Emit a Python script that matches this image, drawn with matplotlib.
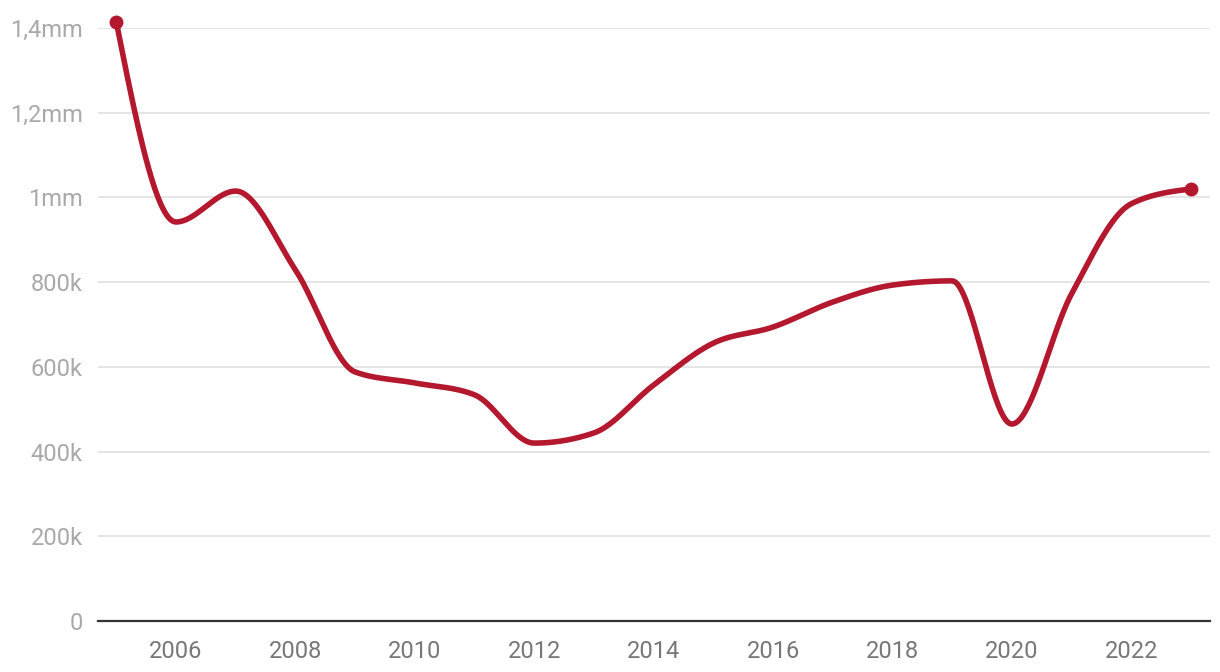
import matplotlib.pyplot as plt
import numpy as np

years = [2005, 2006, 2007, 2008, 2009, 2010, 2011, 2012, 2013, 2014,
         2015, 2016, 2017, 2018, 2019, 2020, 2021, 2022, 2023]
values = [1414000, 942000, 1015000, 829000, 588000, 562000, 534000, 420000, 444000, 557000,
          656000, 694000, 753000, 793000, 803000, 465000, 772000, 985000, 1020000]

yticks = [0, 200000, 400000, 600000, 800000, 1000000, 1200000, 1400000]
ylabels = ['0', '200k', '400k', '600k', '800k', '1mm', '1,2mm', '1,4mm']
xticks = [2006, 2008, 2010, 2012, 2014, 2016, 2018, 2020, 2022]


def monotone_curve(x, y, n=40):
    # d3 curveMonotoneX style smoothing
    x = np.asarray(x, float)
    y = np.asarray(y, float)
    h = np.diff(x)
    s = np.diff(y) / h
    m = np.zeros(len(x))
    for i in range(1, len(x) - 1):
        p = (s[i - 1] * h[i] + s[i] * h[i - 1]) / (h[i - 1] + h[i])
        m[i] = (np.sign(s[i - 1]) + np.sign(s[i])) * min(abs(s[i - 1]), abs(s[i]), 0.5 * abs(p))
    m[0] = (3 * s[0] - m[1]) / 2
    m[-1] = (3 * s[-1] - m[-2]) / 2
    xs, ys = [], []
    for i in range(len(x) - 1):
        t = np.linspace(0, 1, n)
        h00 = 2 * t**3 - 3 * t**2 + 1
        h10 = t**3 - 2 * t**2 + t
        h01 = -2 * t**3 + 3 * t**2
        h11 = t**3 - t**2
        xs.extend(x[i] + t * h[i])
        ys.extend(h00 * y[i] + h10 * h[i] * m[i] + h01 * y[i + 1] + h11 * h[i] * m[i + 1])
    return np.array(xs), np.array(ys)


plt.rcParams['font.family'] = ['Roboto', 'DejaVu Sans']
fig = plt.figure(figsize=(12.2, 6.72), dpi=100)
ax = fig.add_axes([98 / 1220, 1 - 621 / 672, 1112 / 1220, (621 - 28) / 672])

cx, cy = monotone_curve(years, values)
red = '#b3182e'
ax.plot(cx, cy, color=red, lw=4, solid_capstyle='round', clip_on=False, zorder=3)
ax.plot([years[0], years[-1]], [values[0], values[-1]], 'o', color=red, ms=9,
        clip_on=False, zorder=4)

ax.set_xlim(2004.693, 2023.32)
ax.set_ylim(0, 1400000)
ax.set_yticks(yticks)
ax.set_yticklabels(ylabels)
ax.set_xticks(xticks)
ax.set_xticklabels([str(v) for v in xticks])

ax.grid(axis='y', color='#e3e3e3', lw=1.3)
ax.set_axisbelow(True)
for side in ['top', 'right', 'left']:
    ax.spines[side].set_visible(False)
ax.spines['bottom'].set_color('#333333')
ax.spines['bottom'].set_linewidth(1.6)

ax.tick_params(axis='y', length=0, pad=11, labelsize=17, labelcolor='#a9a9a9')
ax.tick_params(axis='x', length=0, pad=14, labelsize=17, labelcolor='#777777')

fig.savefig('out.png', dpi=100)
